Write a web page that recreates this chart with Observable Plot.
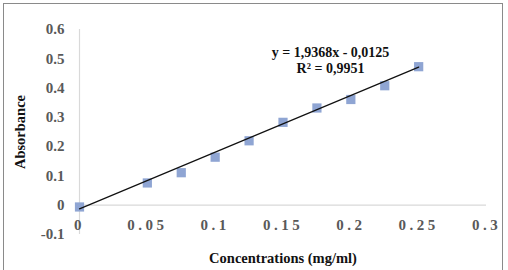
<!DOCTYPE html>
<html>
<head>
<meta charset="utf-8">
<script src="https://cdn.jsdelivr.net/npm/d3@7"></script>
<script src="https://cdn.jsdelivr.net/npm/@observablehq/plot@0.6"></script>
<style>
  html, body { margin: 0; padding: 0; background: #fff; }
  #wrap { position: relative; width: 508px; height: 270px; overflow: hidden; }
  #frame { position: absolute; left: 3px; top: 3px; width: 500px; height: 290px;
           border: 1.5px solid #8a8a8a; box-sizing: border-box; z-index: 2; pointer-events: none; }
  #chart { position: absolute; left: 0; top: 0; z-index: 1; }
  #chart svg { font-family: "Liberation Serif", "DejaVu Serif", serif; background: transparent; }
  #chart g[aria-description="x-tick-labels"] text { letter-spacing: 3.5px; }
</style>
</head>
<body>
<div id="wrap">
  <div id="chart"></div>
  <div id="frame"></div>
</div>
<script>
// Calibration measurements: concentration (mg/ml) and absorbance
const concentrations = [0, 0.05, 0.075, 0.1, 0.125, 0.15, 0.175, 0.2, 0.225, 0.25];
const absorbance = [-0.006, 0.076, 0.111, 0.164, 0.220, 0.283, 0.332, 0.361, 0.408, 0.473];

// Linear fit reported on the chart
const slope = 1.9368;
const intercept = -0.0125;
const rSquared = 0.9951;

// Axis ticks
const xTicks = [0, 0.05, 0.1, 0.15, 0.2, 0.25, 0.3];
const yTicks = [-0.1, 0, 0.1, 0.2, 0.3, 0.4, 0.5, 0.6];

const points = concentrations.map((c, i) => ({x: c, y: absorbance[i]}));
const xMin = d3.min(concentrations), xMax = d3.max(concentrations);
const fit = [xMin, xMax].map(x => ({x, y: slope * x + intercept}));

const fmtComma = v => String(v).replace(".", ",");
const eqText = `y = ${fmtComma(slope)}x - ${fmtComma(Math.abs(intercept))}`;
const r2Text = `R² = ${fmtComma(rSquared)}`;

const tickColor = "#595959";
const serif = "Liberation Serif";

const chart = Plot.plot({
  width: 508,
  height: 270,
  marginLeft: 79,
  marginRight: 22,
  marginTop: 29,
  marginBottom: 36,
  x: {domain: [0, 0.3], axis: null},
  y: {domain: [-0.1, 0.6], axis: null},
  marks: [
    // zero baseline and vertical axis line
    Plot.ruleY([0], {stroke: "#d9d9d9", strokeWidth: 1.2}),
    Plot.ruleX([0], {stroke: "#d9d9d9", strokeWidth: 1.2}),
    // y tick labels
    Plot.text(yTicks, {
      x: 0, y: d => d, dx: -15, textAnchor: "end",
      text: d => String(d),
      fontSize: 15, fontWeight: "bold", fill: tickColor, fontFamily: serif
    }),
    // x tick labels, drawn just below the zero baseline
    Plot.text(xTicks, {
      x: d => d, y: -0.1, dy: -9, dx: 0,
      text: d => String(d),
      fontSize: 15, fontWeight: "bold", fill: tickColor, fontFamily: serif,
      ariaDescription: "x-tick-labels"
    }),
    // measured points
    Plot.dot(points, {x: "x", y: "y", symbol: "square", r: 5.2, fill: "#8fa5d3", stroke: "none"}),
    // linear trendline
    Plot.line(fit, {x: "x", y: "y", stroke: "#111", strokeWidth: 1.2}),
    // trendline equation and R²
    Plot.text([eqText], {x: 0.185, y: 0.52, text: d => d, fontSize: 14, fontWeight: "bold", fill: "#111", fontFamily: serif}),
    Plot.text([r2Text], {x: 0.185, y: 0.466, text: d => d, fontSize: 14, fontWeight: "bold", fill: "#111", fontFamily: serif}),
    // axis titles
    Plot.text(["Concentrations (mg/ml)"], {frameAnchor: "bottom", dy: 24, lineAnchor: "middle", text: d => d,
      fontSize: 14.5, fontWeight: "bold", fill: "#111", fontFamily: serif}),
    Plot.text(["Absorbance"], {frameAnchor: "left", dx: -59, rotate: -90, textAnchor: "middle", lineAnchor: "middle",
      text: d => d, fontSize: 14.5, fontWeight: "bold", fill: "#111", fontFamily: serif})
  ]
});
document.getElementById("chart").append(chart);
</script>
</body>
</html>
